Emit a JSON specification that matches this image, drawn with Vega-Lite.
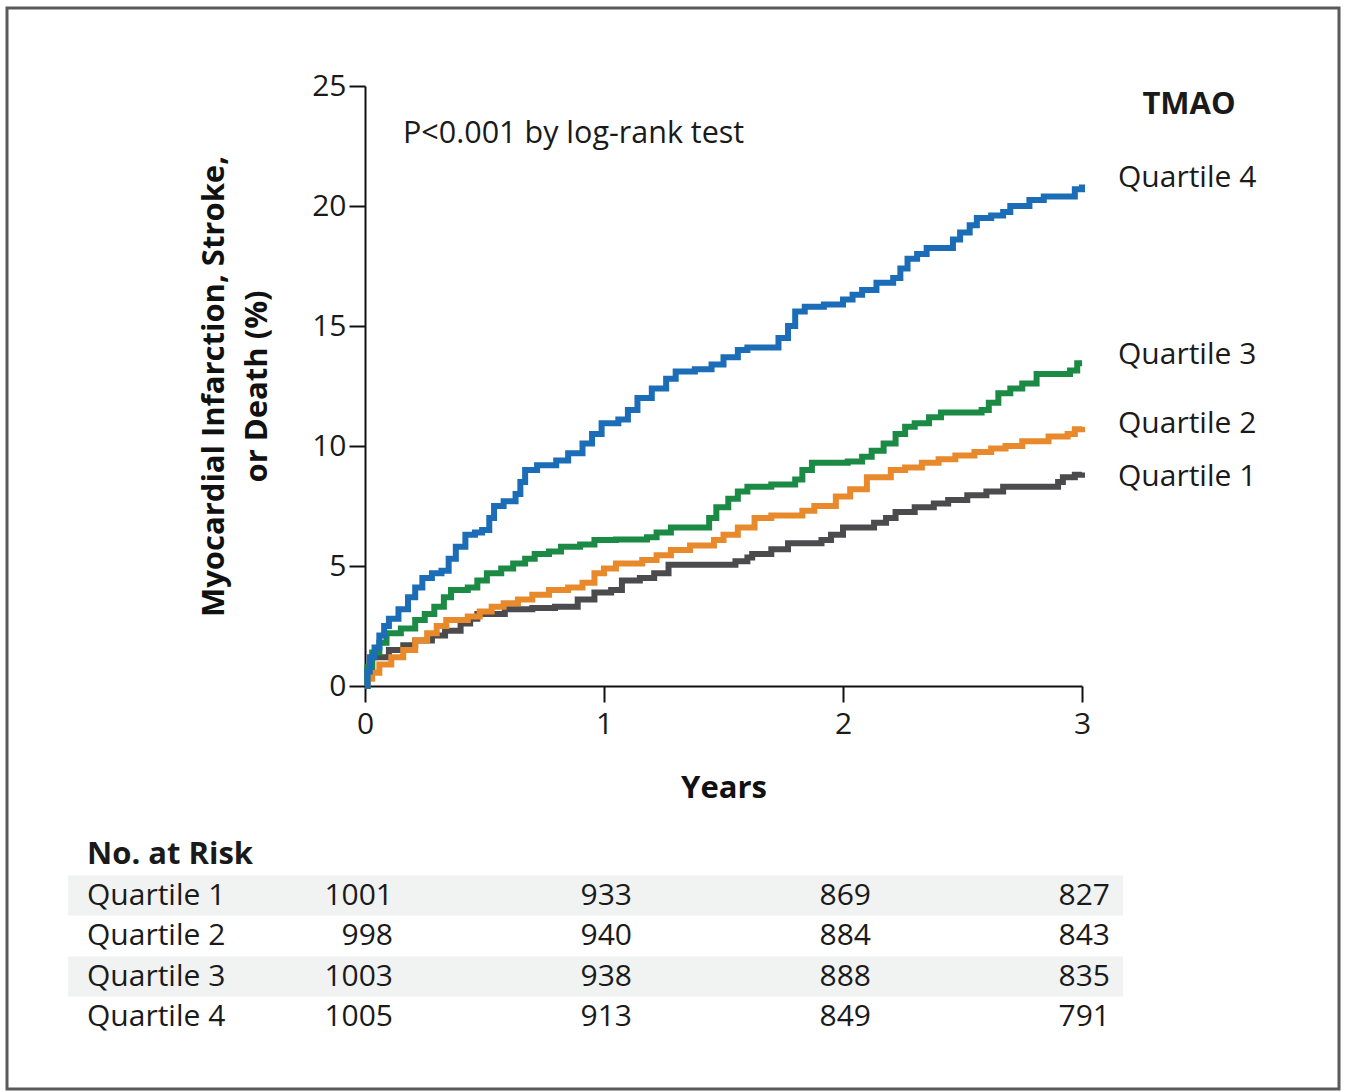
{
  "$schema": "https://vega.github.io/schema/vega-lite/v6.json",
  "width": 1332,
  "height": 1081,
  "autosize": {"type": "none"},
  "padding": {"left": 7, "top": 8, "right": 6, "bottom": 3},
  "background": "white",
  "config": {
    "view": {"stroke": "#5a5a5a", "strokeWidth": 3},
    "font": "Open Sans",
    "text": {"font": "Open Sans", "fontSize": 30, "color": "#1a1a1a"},
    "axis": {
      "labelFont": "Open Sans",
      "labelFontSize": 30,
      "labelColor": "#1a1a1a",
      "labelFlush": false,
      "domainColor": "#111111",
      "domainWidth": 2,
      "tickColor": "#111111",
      "tickWidth": 2,
      "grid": false,
      "titleFont": "Open Sans",
      "titleFontSize": 31,
      "titleFontWeight": "bold",
      "titleColor": "#111111"
    }
  },
  "datasets": {
    "curves": [
      {"q": "Quartile 1", "t": 0, "v": 0}, {"q": "Quartile 1", "t": 0.01, "v": 0.6}, {"q": "Quartile 1", "t": 0.03, "v": 1.2}, {"q": "Quartile 1", "t": 0.1, "v": 1.5}, {"q": "Quartile 1", "t": 0.16, "v": 1.7}, {"q": "Quartile 1", "t": 0.21, "v": 1.9}, {"q": "Quartile 1", "t": 0.28, "v": 2.1}, {"q": "Quartile 1", "t": 0.335, "v": 2.3}, {"q": "Quartile 1", "t": 0.4, "v": 2.6}, {"q": "Quartile 1", "t": 0.44, "v": 2.8}, {"q": "Quartile 1", "t": 0.47, "v": 3.0}, {"q": "Quartile 1", "t": 0.585, "v": 3.2}, {"q": "Quartile 1", "t": 0.7, "v": 3.25}, {"q": "Quartile 1", "t": 0.795, "v": 3.3}, {"q": "Quartile 1", "t": 0.89, "v": 3.6}, {"q": "Quartile 1", "t": 0.96, "v": 3.9}, {"q": "Quartile 1", "t": 1.03, "v": 4.0}, {"q": "Quartile 1", "t": 1.075, "v": 4.4}, {"q": "Quartile 1", "t": 1.15, "v": 4.5}, {"q": "Quartile 1", "t": 1.21, "v": 4.7}, {"q": "Quartile 1", "t": 1.27, "v": 5.05}, {"q": "Quartile 1", "t": 1.55, "v": 5.2}, {"q": "Quartile 1", "t": 1.6, "v": 5.35}, {"q": "Quartile 1", "t": 1.62, "v": 5.5}, {"q": "Quartile 1", "t": 1.7, "v": 5.7}, {"q": "Quartile 1", "t": 1.77, "v": 5.95}, {"q": "Quartile 1", "t": 1.91, "v": 6.08}, {"q": "Quartile 1", "t": 1.95, "v": 6.3}, {"q": "Quartile 1", "t": 2.0, "v": 6.6}, {"q": "Quartile 1", "t": 2.13, "v": 6.8}, {"q": "Quartile 1", "t": 2.18, "v": 7.0}, {"q": "Quartile 1", "t": 2.22, "v": 7.25}, {"q": "Quartile 1", "t": 2.3, "v": 7.45}, {"q": "Quartile 1", "t": 2.38, "v": 7.6}, {"q": "Quartile 1", "t": 2.44, "v": 7.75}, {"q": "Quartile 1", "t": 2.52, "v": 7.95}, {"q": "Quartile 1", "t": 2.6, "v": 8.1}, {"q": "Quartile 1", "t": 2.67, "v": 8.3}, {"q": "Quartile 1", "t": 2.86, "v": 8.3}, {"q": "Quartile 1", "t": 2.9, "v": 8.5}, {"q": "Quartile 1", "t": 2.92, "v": 8.7}, {"q": "Quartile 1", "t": 2.97, "v": 8.8}, {"q": "Quartile 1", "t": 3.0, "v": 8.9},
      {"q": "Quartile 2", "t": 0, "v": 0}, {"q": "Quartile 2", "t": 0.01, "v": 0.3}, {"q": "Quartile 2", "t": 0.03, "v": 0.55}, {"q": "Quartile 2", "t": 0.06, "v": 0.9}, {"q": "Quartile 2", "t": 0.11, "v": 1.2}, {"q": "Quartile 2", "t": 0.16, "v": 1.5}, {"q": "Quartile 2", "t": 0.21, "v": 1.9}, {"q": "Quartile 2", "t": 0.26, "v": 2.2}, {"q": "Quartile 2", "t": 0.3, "v": 2.5}, {"q": "Quartile 2", "t": 0.34, "v": 2.75}, {"q": "Quartile 2", "t": 0.43, "v": 2.9}, {"q": "Quartile 2", "t": 0.48, "v": 3.1}, {"q": "Quartile 2", "t": 0.53, "v": 3.3}, {"q": "Quartile 2", "t": 0.58, "v": 3.45}, {"q": "Quartile 2", "t": 0.64, "v": 3.6}, {"q": "Quartile 2", "t": 0.7, "v": 3.8}, {"q": "Quartile 2", "t": 0.77, "v": 4.0}, {"q": "Quartile 2", "t": 0.85, "v": 4.1}, {"q": "Quartile 2", "t": 0.91, "v": 4.3}, {"q": "Quartile 2", "t": 0.96, "v": 4.7}, {"q": "Quartile 2", "t": 1.0, "v": 4.9}, {"q": "Quartile 2", "t": 1.05, "v": 5.1}, {"q": "Quartile 2", "t": 1.16, "v": 5.25}, {"q": "Quartile 2", "t": 1.22, "v": 5.45}, {"q": "Quartile 2", "t": 1.28, "v": 5.67}, {"q": "Quartile 2", "t": 1.36, "v": 5.85}, {"q": "Quartile 2", "t": 1.46, "v": 6.08}, {"q": "Quartile 2", "t": 1.5, "v": 6.3}, {"q": "Quartile 2", "t": 1.56, "v": 6.6}, {"q": "Quartile 2", "t": 1.63, "v": 7.0}, {"q": "Quartile 2", "t": 1.7, "v": 7.1}, {"q": "Quartile 2", "t": 1.83, "v": 7.3}, {"q": "Quartile 2", "t": 1.88, "v": 7.5}, {"q": "Quartile 2", "t": 1.97, "v": 7.9}, {"q": "Quartile 2", "t": 2.03, "v": 8.2}, {"q": "Quartile 2", "t": 2.1, "v": 8.7}, {"q": "Quartile 2", "t": 2.2, "v": 9.0}, {"q": "Quartile 2", "t": 2.26, "v": 9.1}, {"q": "Quartile 2", "t": 2.33, "v": 9.3}, {"q": "Quartile 2", "t": 2.4, "v": 9.45}, {"q": "Quartile 2", "t": 2.47, "v": 9.6}, {"q": "Quartile 2", "t": 2.55, "v": 9.75}, {"q": "Quartile 2", "t": 2.62, "v": 9.9}, {"q": "Quartile 2", "t": 2.68, "v": 10.0}, {"q": "Quartile 2", "t": 2.75, "v": 10.2}, {"q": "Quartile 2", "t": 2.86, "v": 10.4}, {"q": "Quartile 2", "t": 2.94, "v": 10.5}, {"q": "Quartile 2", "t": 2.97, "v": 10.7}, {"q": "Quartile 2", "t": 3.0, "v": 10.8},
      {"q": "Quartile 3", "t": 0, "v": 0}, {"q": "Quartile 3", "t": 0.01, "v": 0.8}, {"q": "Quartile 3", "t": 0.03, "v": 1.4}, {"q": "Quartile 3", "t": 0.06, "v": 1.8}, {"q": "Quartile 3", "t": 0.09, "v": 2.2}, {"q": "Quartile 3", "t": 0.15, "v": 2.4}, {"q": "Quartile 3", "t": 0.21, "v": 2.75}, {"q": "Quartile 3", "t": 0.25, "v": 3.0}, {"q": "Quartile 3", "t": 0.29, "v": 3.3}, {"q": "Quartile 3", "t": 0.33, "v": 3.7}, {"q": "Quartile 3", "t": 0.36, "v": 4.0}, {"q": "Quartile 3", "t": 0.43, "v": 4.1}, {"q": "Quartile 3", "t": 0.47, "v": 4.4}, {"q": "Quartile 3", "t": 0.51, "v": 4.7}, {"q": "Quartile 3", "t": 0.57, "v": 4.9}, {"q": "Quartile 3", "t": 0.62, "v": 5.1}, {"q": "Quartile 3", "t": 0.67, "v": 5.3}, {"q": "Quartile 3", "t": 0.71, "v": 5.5}, {"q": "Quartile 3", "t": 0.77, "v": 5.6}, {"q": "Quartile 3", "t": 0.82, "v": 5.8}, {"q": "Quartile 3", "t": 0.9, "v": 5.9}, {"q": "Quartile 3", "t": 0.96, "v": 6.08}, {"q": "Quartile 3", "t": 1.05, "v": 6.1}, {"q": "Quartile 3", "t": 1.18, "v": 6.2}, {"q": "Quartile 3", "t": 1.22, "v": 6.4}, {"q": "Quartile 3", "t": 1.28, "v": 6.6}, {"q": "Quartile 3", "t": 1.41, "v": 6.6}, {"q": "Quartile 3", "t": 1.44, "v": 7.0}, {"q": "Quartile 3", "t": 1.47, "v": 7.45}, {"q": "Quartile 3", "t": 1.52, "v": 7.8}, {"q": "Quartile 3", "t": 1.56, "v": 8.1}, {"q": "Quartile 3", "t": 1.6, "v": 8.3}, {"q": "Quartile 3", "t": 1.7, "v": 8.4}, {"q": "Quartile 3", "t": 1.8, "v": 8.6}, {"q": "Quartile 3", "t": 1.83, "v": 9.0}, {"q": "Quartile 3", "t": 1.87, "v": 9.3}, {"q": "Quartile 3", "t": 2.02, "v": 9.35}, {"q": "Quartile 3", "t": 2.08, "v": 9.55}, {"q": "Quartile 3", "t": 2.12, "v": 9.8}, {"q": "Quartile 3", "t": 2.17, "v": 10.1}, {"q": "Quartile 3", "t": 2.22, "v": 10.5}, {"q": "Quartile 3", "t": 2.26, "v": 10.8}, {"q": "Quartile 3", "t": 2.3, "v": 10.95}, {"q": "Quartile 3", "t": 2.36, "v": 11.2}, {"q": "Quartile 3", "t": 2.41, "v": 11.4}, {"q": "Quartile 3", "t": 2.58, "v": 11.5}, {"q": "Quartile 3", "t": 2.61, "v": 11.8}, {"q": "Quartile 3", "t": 2.65, "v": 12.2}, {"q": "Quartile 3", "t": 2.7, "v": 12.4}, {"q": "Quartile 3", "t": 2.75, "v": 12.6}, {"q": "Quartile 3", "t": 2.81, "v": 13.0}, {"q": "Quartile 3", "t": 2.95, "v": 13.15}, {"q": "Quartile 3", "t": 2.98, "v": 13.45}, {"q": "Quartile 3", "t": 3.0, "v": 13.45},
      {"q": "Quartile 4", "t": 0, "v": 0}, {"q": "Quartile 4", "t": 0.01, "v": 0.6}, {"q": "Quartile 4", "t": 0.02, "v": 1.2}, {"q": "Quartile 4", "t": 0.04, "v": 1.6}, {"q": "Quartile 4", "t": 0.06, "v": 2.1}, {"q": "Quartile 4", "t": 0.08, "v": 2.5}, {"q": "Quartile 4", "t": 0.1, "v": 2.8}, {"q": "Quartile 4", "t": 0.14, "v": 3.2}, {"q": "Quartile 4", "t": 0.18, "v": 3.7}, {"q": "Quartile 4", "t": 0.21, "v": 4.1}, {"q": "Quartile 4", "t": 0.24, "v": 4.5}, {"q": "Quartile 4", "t": 0.28, "v": 4.7}, {"q": "Quartile 4", "t": 0.32, "v": 4.8}, {"q": "Quartile 4", "t": 0.35, "v": 5.3}, {"q": "Quartile 4", "t": 0.38, "v": 5.8}, {"q": "Quartile 4", "t": 0.42, "v": 6.3}, {"q": "Quartile 4", "t": 0.46, "v": 6.4}, {"q": "Quartile 4", "t": 0.49, "v": 6.5}, {"q": "Quartile 4", "t": 0.52, "v": 7.0}, {"q": "Quartile 4", "t": 0.54, "v": 7.5}, {"q": "Quartile 4", "t": 0.58, "v": 7.7}, {"q": "Quartile 4", "t": 0.63, "v": 8.0}, {"q": "Quartile 4", "t": 0.65, "v": 8.5}, {"q": "Quartile 4", "t": 0.67, "v": 9.0}, {"q": "Quartile 4", "t": 0.72, "v": 9.2}, {"q": "Quartile 4", "t": 0.8, "v": 9.4}, {"q": "Quartile 4", "t": 0.85, "v": 9.7}, {"q": "Quartile 4", "t": 0.91, "v": 10.1}, {"q": "Quartile 4", "t": 0.95, "v": 10.5}, {"q": "Quartile 4", "t": 0.99, "v": 10.95}, {"q": "Quartile 4", "t": 1.06, "v": 11.1}, {"q": "Quartile 4", "t": 1.1, "v": 11.5}, {"q": "Quartile 4", "t": 1.14, "v": 12.0}, {"q": "Quartile 4", "t": 1.2, "v": 12.4}, {"q": "Quartile 4", "t": 1.26, "v": 12.8}, {"q": "Quartile 4", "t": 1.3, "v": 13.1}, {"q": "Quartile 4", "t": 1.38, "v": 13.2}, {"q": "Quartile 4", "t": 1.45, "v": 13.4}, {"q": "Quartile 4", "t": 1.5, "v": 13.7}, {"q": "Quartile 4", "t": 1.56, "v": 14.0}, {"q": "Quartile 4", "t": 1.6, "v": 14.1}, {"q": "Quartile 4", "t": 1.69, "v": 14.1}, {"q": "Quartile 4", "t": 1.73, "v": 14.5}, {"q": "Quartile 4", "t": 1.77, "v": 15.0}, {"q": "Quartile 4", "t": 1.8, "v": 15.6}, {"q": "Quartile 4", "t": 1.84, "v": 15.8}, {"q": "Quartile 4", "t": 1.92, "v": 15.9}, {"q": "Quartile 4", "t": 2.0, "v": 16.1}, {"q": "Quartile 4", "t": 2.04, "v": 16.3}, {"q": "Quartile 4", "t": 2.08, "v": 16.5}, {"q": "Quartile 4", "t": 2.14, "v": 16.8}, {"q": "Quartile 4", "t": 2.21, "v": 17.0}, {"q": "Quartile 4", "t": 2.24, "v": 17.4}, {"q": "Quartile 4", "t": 2.27, "v": 17.8}, {"q": "Quartile 4", "t": 2.31, "v": 18.0}, {"q": "Quartile 4", "t": 2.35, "v": 18.25}, {"q": "Quartile 4", "t": 2.42, "v": 18.25}, {"q": "Quartile 4", "t": 2.46, "v": 18.6}, {"q": "Quartile 4", "t": 2.49, "v": 18.9}, {"q": "Quartile 4", "t": 2.53, "v": 19.2}, {"q": "Quartile 4", "t": 2.56, "v": 19.5}, {"q": "Quartile 4", "t": 2.62, "v": 19.6}, {"q": "Quartile 4", "t": 2.67, "v": 19.75}, {"q": "Quartile 4", "t": 2.7, "v": 20.0}, {"q": "Quartile 4", "t": 2.78, "v": 20.25}, {"q": "Quartile 4", "t": 2.84, "v": 20.4}, {"q": "Quartile 4", "t": 2.95, "v": 20.4}, {"q": "Quartile 4", "t": 2.97, "v": 20.7}, {"q": "Quartile 4", "t": 3.0, "v": 20.9}
    ],
    "endLabels": [
      {"q": "Quartile 1", "v": 8.7},
      {"q": "Quartile 2", "v": 10.9},
      {"q": "Quartile 3", "v": 13.8},
      {"q": "Quartile 4", "v": 21.15}
    ],
    "rows": [
      {"q": "Quartile 1", "row": 1},
      {"q": "Quartile 2", "row": 2},
      {"q": "Quartile 3", "row": 3},
      {"q": "Quartile 4", "row": 4}
    ],
    "risk": [
      {"q": "Quartile 1", "row": 1, "t": 0, "n": 1001}, {"q": "Quartile 1", "row": 1, "t": 1, "n": 933}, {"q": "Quartile 1", "row": 1, "t": 2, "n": 869}, {"q": "Quartile 1", "row": 1, "t": 3, "n": 827},
      {"q": "Quartile 2", "row": 2, "t": 0, "n": 998}, {"q": "Quartile 2", "row": 2, "t": 1, "n": 940}, {"q": "Quartile 2", "row": 2, "t": 2, "n": 884}, {"q": "Quartile 2", "row": 2, "t": 3, "n": 843},
      {"q": "Quartile 3", "row": 3, "t": 0, "n": 1003}, {"q": "Quartile 3", "row": 3, "t": 1, "n": 938}, {"q": "Quartile 3", "row": 3, "t": 2, "n": 888}, {"q": "Quartile 3", "row": 3, "t": 3, "n": 835},
      {"q": "Quartile 4", "row": 4, "t": 0, "n": 1005}, {"q": "Quartile 4", "row": 4, "t": 1, "n": 913}, {"q": "Quartile 4", "row": 4, "t": 2, "n": 849}, {"q": "Quartile 4", "row": 4, "t": 3, "n": 791}
    ]
  },
  "resolve": {"scale": {"y": "independent"}},
  "layer": [
    {
      "layer": [
        {
          "data": {"name": "curves"},
          "mark": {"type": "line", "interpolate": "step-after", "strokeWidth": 6, "strokeJoin": "miter"},
          "encoding": {
            "x": {
              "field": "t", "type": "quantitative",
              "scale": {"domain": [0, 3], "range": [358, 1075], "nice": false, "zero": false},
              "axis": {"title": "Years", "values": [0, 1, 2, 3], "format": "d", "offset": -403, "tickSize": 16, "labelPadding": 7, "titlePadding": 34}
            },
            "y": {
              "field": "v", "type": "quantitative",
              "scale": {"domain": [0, 25], "range": [678, 78], "nice": false},
              "axis": {"title": ["Myocardial Infarction, Stroke,", "or Death (%)"], "values": [0, 5, 10, 15, 20, 25], "offset": -358, "tickSize": 16, "labelPadding": 3, "titlePadding": 38, "titleLineHeight": 43}
            },
            "color": {
              "field": "q", "type": "nominal",
              "scale": {"domain": ["Quartile 1", "Quartile 2", "Quartile 3", "Quartile 4"], "range": ["#4b4b4d", "#e8892b", "#1b8a44", "#1a6db6"]},
              "legend": null
            }
          }
        },
        {
          "data": {"name": "endLabels"},
          "mark": {"type": "text", "align": "left", "baseline": "middle", "dx": 36},
          "encoding": {
            "x": {"datum": 3, "type": "quantitative"},
            "y": {"field": "v", "type": "quantitative"},
            "text": {"field": "q"}
          }
        },
        {
          "data": {"values": [{}]},
          "mark": {"type": "text", "align": "center", "baseline": "middle", "dx": 107, "fontWeight": "bold", "fontSize": 31},
          "encoding": {
            "x": {"datum": 3, "type": "quantitative"},
            "y": {"datum": 24.2, "type": "quantitative"},
            "text": {"value": "TMAO"}
          }
        },
        {
          "data": {"values": [{}]},
          "mark": {"type": "text", "align": "left", "baseline": "middle", "dx": 38, "fontSize": 30.5},
          "encoding": {
            "x": {"datum": 0, "type": "quantitative"},
            "y": {"datum": 23.0, "type": "quantitative"},
            "text": {"value": "P<0.001 by log-rank test"}
          }
        }
      ]
    },
    {
      "layer": [
        {
          "data": {"name": "rows"},
          "transform": [{"filter": "datum.row == 1 || datum.row == 3"}],
          "mark": {"type": "bar", "height": 40, "color": "#f1f2f2"},
          "encoding": {
            "x": {"datum": -1.2427, "type": "quantitative"},
            "x2": {"datum": 3.1715},
            "y": {"field": "row", "type": "quantitative", "scale": {"domain": [0, 4], "range": [847, 1009], "nice": false, "zero": false, "padding": 0}, "axis": null}
          }
        },
        {
          "data": {"values": [{}]},
          "mark": {"type": "text", "align": "left", "baseline": "middle", "dx": -278, "fontWeight": "bold", "fontSize": 31},
          "encoding": {
            "x": {"datum": 0, "type": "quantitative"},
            "y": {"datum": 0, "type": "quantitative", "axis": null},
            "text": {"value": "No. at Risk"}
          }
        },
        {
          "data": {"name": "rows"},
          "mark": {"type": "text", "align": "left", "baseline": "middle", "dx": -278},
          "encoding": {
            "x": {"datum": 0, "type": "quantitative"},
            "y": {"field": "row", "type": "quantitative", "axis": null},
            "text": {"field": "q"}
          }
        },
        {
          "data": {"name": "risk"},
          "mark": {"type": "text", "align": "right", "baseline": "middle", "dx": 28},
          "encoding": {
            "x": {"field": "t", "type": "quantitative"},
            "y": {"field": "row", "type": "quantitative", "axis": null},
            "text": {"field": "n", "type": "quantitative"}
          }
        }
      ]
    }
  ]
}
